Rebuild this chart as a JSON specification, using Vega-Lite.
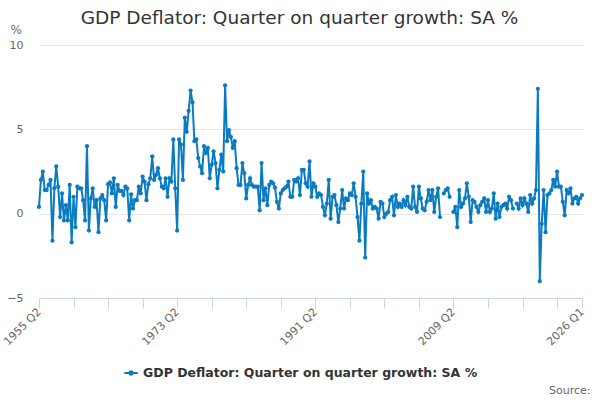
{
  "$schema": "https://vega.github.io/schema/vega-lite/v6.json",
  "width": 543,
  "height": 253,
  "autosize": {"type": "none"},
  "padding": {"left": 39, "top": 45, "right": 18, "bottom": 102},
  "title": {
    "text": "GDP Deflator: Quarter on quarter growth: SA %",
    "font": "DejaVu Sans",
    "fontSize": 18.5,
    "fontWeight": "normal",
    "color": "#333333",
    "anchor": "middle",
    "dx": -11,
    "offset": -4
  },
  "data": {
    "values": [
      {"q": "1955 Q2", "v": 0.4}, {"q": "1955 Q3", "v": 2.0}, {"q": "1955 Q4", "v": 2.5},
      {"q": "1956 Q1", "v": 1.4}, {"q": "1956 Q2", "v": 1.4}, {"q": "1956 Q3", "v": 1.7}, {"q": "1956 Q4", "v": 2.0},
      {"q": "1957 Q1", "v": -1.6}, {"q": "1957 Q2", "v": 1.5}, {"q": "1957 Q3", "v": 2.8}, {"q": "1957 Q4", "v": 1.6},
      {"q": "1958 Q1", "v": -0.2}, {"q": "1958 Q2", "v": 1.2}, {"q": "1958 Q3", "v": -0.4}, {"q": "1958 Q4", "v": 0.5},
      {"q": "1959 Q1", "v": -0.4}, {"q": "1959 Q2", "v": 1.7}, {"q": "1959 Q3", "v": -1.7}, {"q": "1959 Q4", "v": 1.0},
      {"q": "1960 Q1", "v": -0.8}, {"q": "1960 Q2", "v": 1.6}, {"q": "1960 Q3", "v": 1.5}, {"q": "1960 Q4", "v": 1.5},
      {"q": "1961 Q1", "v": 0.8}, {"q": "1961 Q2", "v": -0.4}, {"q": "1961 Q3", "v": 4.0}, {"q": "1961 Q4", "v": -1.0},
      {"q": "1962 Q1", "v": 0.9}, {"q": "1962 Q2", "v": 1.5}, {"q": "1962 Q3", "v": 0.4}, {"q": "1962 Q4", "v": 0.8},
      {"q": "1963 Q1", "v": -1.1}, {"q": "1963 Q2", "v": 0.9}, {"q": "1963 Q3", "v": 1.1}, {"q": "1963 Q4", "v": 0.8},
      {"q": "1964 Q1", "v": -0.4}, {"q": "1964 Q2", "v": 1.75}, {"q": "1964 Q3", "v": 1.85}, {"q": "1964 Q4", "v": 1.2},
      {"q": "1965 Q1", "v": 2.1}, {"q": "1965 Q2", "v": 0.4}, {"q": "1965 Q3", "v": 1.7}, {"q": "1965 Q4", "v": 1.35},
      {"q": "1966 Q1", "v": 1.35}, {"q": "1966 Q2", "v": 1.1}, {"q": "1966 Q3", "v": 1.6}, {"q": "1966 Q4", "v": 1.5},
      {"q": "1967 Q1", "v": -0.4}, {"q": "1967 Q2", "v": 1.15}, {"q": "1967 Q3", "v": 0.3}, {"q": "1967 Q4", "v": 0.8},
      {"q": "1968 Q1", "v": 0.8}, {"q": "1968 Q2", "v": 1.6}, {"q": "1968 Q3", "v": 1.2}, {"q": "1968 Q4", "v": 2.2},
      {"q": "1969 Q1", "v": 1.9}, {"q": "1969 Q2", "v": 0.8}, {"q": "1969 Q3", "v": 1.75}, {"q": "1969 Q4", "v": 2.1},
      {"q": "1970 Q1", "v": 3.4}, {"q": "1970 Q2", "v": 2.0}, {"q": "1970 Q3", "v": 2.3}, {"q": "1970 Q4", "v": 2.7},
      {"q": "1971 Q1", "v": 2.1}, {"q": "1971 Q2", "v": 1.6}, {"q": "1971 Q3", "v": 1.5}, {"q": "1971 Q4", "v": 2.1},
      {"q": "1972 Q1", "v": 1.0}, {"q": "1972 Q2", "v": 2.1}, {"q": "1972 Q3", "v": 1.9}, {"q": "1972 Q4", "v": 4.4},
      {"q": "1973 Q1", "v": 1.5}, {"q": "1973 Q2", "v": -1.0}, {"q": "1973 Q3", "v": 4.4}, {"q": "1973 Q4", "v": 4.1},
      {"q": "1974 Q1", "v": 2.0}, {"q": "1974 Q2", "v": 5.7}, {"q": "1974 Q3", "v": 4.85}, {"q": "1974 Q4", "v": 6.1},
      {"q": "1975 Q1", "v": 7.3}, {"q": "1975 Q2", "v": 6.6}, {"q": "1975 Q3", "v": 4.3}, {"q": "1975 Q4", "v": 4.4},
      {"q": "1976 Q1", "v": 3.3}, {"q": "1976 Q2", "v": 2.8}, {"q": "1976 Q3", "v": 2.4}, {"q": "1976 Q4", "v": 4.0},
      {"q": "1977 Q1", "v": 3.6}, {"q": "1977 Q2", "v": 3.9}, {"q": "1977 Q3", "v": 2.1}, {"q": "1977 Q4", "v": 2.9},
      {"q": "1978 Q1", "v": 3.7}, {"q": "1978 Q2", "v": 3.0}, {"q": "1978 Q3", "v": 1.5}, {"q": "1978 Q4", "v": 2.6},
      {"q": "1979 Q1", "v": 3.5}, {"q": "1979 Q2", "v": 2.5}, {"q": "1979 Q3", "v": 7.6}, {"q": "1979 Q4", "v": 4.3},
      {"q": "1980 Q1", "v": 4.95}, {"q": "1980 Q2", "v": 4.55}, {"q": "1980 Q3", "v": 3.9}, {"q": "1980 Q4", "v": 4.3},
      {"q": "1981 Q1", "v": 2.7}, {"q": "1981 Q2", "v": 1.7}, {"q": "1981 Q3", "v": 1.7}, {"q": "1981 Q4", "v": 3.0},
      {"q": "1982 Q1", "v": 2.4}, {"q": "1982 Q2", "v": 0.9}, {"q": "1982 Q3", "v": 1.7}, {"q": "1982 Q4", "v": 2.1},
      {"q": "1983 Q1", "v": 1.7}, {"q": "1983 Q2", "v": 1.6}, {"q": "1983 Q3", "v": 1.6}, {"q": "1983 Q4", "v": 1.6},
      {"q": "1984 Q1", "v": 0.2}, {"q": "1984 Q2", "v": 3.0}, {"q": "1984 Q3", "v": 0.8}, {"q": "1984 Q4", "v": 1.5},
      {"q": "1985 Q1", "v": 0.5}, {"q": "1985 Q2", "v": 1.7}, {"q": "1985 Q3", "v": 1.9}, {"q": "1985 Q4", "v": 1.8},
      {"q": "1986 Q1", "v": 1.55}, {"q": "1986 Q2", "v": 0.7}, {"q": "1986 Q3", "v": 0.3}, {"q": "1986 Q4", "v": 1.2},
      {"q": "1987 Q1", "v": 1.4}, {"q": "1987 Q2", "v": 1.5}, {"q": "1987 Q3", "v": 1.6}, {"q": "1987 Q4", "v": 1.9},
      {"q": "1988 Q1", "v": 1.0}, {"q": "1988 Q2", "v": 1.0}, {"q": "1988 Q3", "v": 2.0}, {"q": "1988 Q4", "v": 1.9},
      {"q": "1989 Q1", "v": 2.1}, {"q": "1989 Q2", "v": 1.1}, {"q": "1989 Q3", "v": 2.6}, {"q": "1989 Q4", "v": 2.6},
      {"q": "1990 Q1", "v": 1.8}, {"q": "1990 Q2", "v": 1.6}, {"q": "1990 Q3", "v": 3.1}, {"q": "1990 Q4", "v": 1.0},
      {"q": "1991 Q1", "v": 1.8}, {"q": "1991 Q2", "v": 1.6}, {"q": "1991 Q3", "v": 1.0}, {"q": "1991 Q4", "v": 1.2},
      {"q": "1992 Q1", "v": 1.1}, {"q": "1992 Q2", "v": 0.4}, {"q": "1992 Q3", "v": -0.1}, {"q": "1992 Q4", "v": 0.6},
      {"q": "1993 Q1", "v": 2.0}, {"q": "1993 Q2", "v": -0.3}, {"q": "1993 Q3", "v": 1.0}, {"q": "1993 Q4", "v": 1.1},
      {"q": "1994 Q1", "v": 0.5}, {"q": "1994 Q2", "v": -0.5}, {"q": "1994 Q3", "v": 0.3}, {"q": "1994 Q4", "v": 1.4},
      {"q": "1995 Q1", "v": 0.3}, {"q": "1995 Q2", "v": 0.9}, {"q": "1995 Q3", "v": 0.8}, {"q": "1995 Q4", "v": 1.2},
      {"q": "1996 Q1", "v": 1.1}, {"q": "1996 Q2", "v": 1.8}, {"q": "1996 Q3", "v": 1.0}, {"q": "1996 Q4", "v": -0.2},
      {"q": "1997 Q1", "v": -1.6}, {"q": "1997 Q2", "v": 0.6}, {"q": "1997 Q3", "v": 2.5}, {"q": "1997 Q4", "v": -2.6},
      {"q": "1998 Q1", "v": 1.2}, {"q": "1998 Q2", "v": 0.6}, {"q": "1998 Q3", "v": 0.8}, {"q": "1998 Q4", "v": 0.3},
      {"q": "1999 Q1", "v": 0.4}, {"q": "1999 Q2", "v": 0.3}, {"q": "1999 Q3", "v": -0.3}, {"q": "1999 Q4", "v": 0.7},
      {"q": "2000 Q1", "v": 0.6}, {"q": "2000 Q2", "v": -0.2}, {"q": "2000 Q3", "v": 0.0}, {"q": "2000 Q4", "v": 0.1},
      {"q": "2001 Q1", "v": 0.8}, {"q": "2001 Q2", "v": 1.0}, {"q": "2001 Q3", "v": -0.1}, {"q": "2001 Q4", "v": 1.1},
      {"q": "2002 Q1", "v": 0.4}, {"q": "2002 Q2", "v": 0.6}, {"q": "2002 Q3", "v": 0.4}, {"q": "2002 Q4", "v": 0.8},
      {"q": "2003 Q1", "v": 0.5}, {"q": "2003 Q2", "v": 1.0}, {"q": "2003 Q3", "v": 0.4}, {"q": "2003 Q4", "v": 0.3},
      {"q": "2004 Q1", "v": 1.6}, {"q": "2004 Q2", "v": 0.4}, {"q": "2004 Q3", "v": 0.1}, {"q": "2004 Q4", "v": 1.6},
      {"q": "2005 Q1", "v": 0.9}, {"q": "2005 Q2", "v": 0.3}, {"q": "2005 Q3", "v": 0.2}, {"q": "2005 Q4", "v": 0.7},
      {"q": "2006 Q1", "v": 1.4}, {"q": "2006 Q2", "v": 0.8}, {"q": "2006 Q3", "v": 1.4}, {"q": "2006 Q4", "v": 0.1},
      {"q": "2007 Q1", "v": 1.0}, {"q": "2007 Q2", "v": 1.5}, {"q": "2007 Q3", "v": -0.2}, {"q": "2007 Q4", "v": null},
      {"q": "2008 Q1", "v": 1.2}, {"q": "2008 Q2", "v": 1.4}, {"q": "2008 Q3", "v": 1.5}, {"q": "2008 Q4", "v": 1.0},
      {"q": "2009 Q1", "v": null}, {"q": "2009 Q2", "v": 0.1}, {"q": "2009 Q3", "v": 0.4}, {"q": "2009 Q4", "v": -0.8},
      {"q": "2010 Q1", "v": 1.4}, {"q": "2010 Q2", "v": 0.4}, {"q": "2010 Q3", "v": 0.6}, {"q": "2010 Q4", "v": 0.9},
      {"q": "2011 Q1", "v": 1.8}, {"q": "2011 Q2", "v": 1.0}, {"q": "2011 Q3", "v": -0.5}, {"q": "2011 Q4", "v": 0.8},
      {"q": "2012 Q1", "v": 0.7}, {"q": "2012 Q2", "v": 0.4}, {"q": "2012 Q3", "v": 0.1}, {"q": "2012 Q4", "v": 0.5},
      {"q": "2013 Q1", "v": 0.7}, {"q": "2013 Q2", "v": 0.9}, {"q": "2013 Q3", "v": 0.1}, {"q": "2013 Q4", "v": 0.8},
      {"q": "2014 Q1", "v": 0.1}, {"q": "2014 Q2", "v": 0.3}, {"q": "2014 Q3", "v": 1.2}, {"q": "2014 Q4", "v": -0.3},
      {"q": "2015 Q1", "v": 0.6}, {"q": "2015 Q2", "v": -0.2}, {"q": "2015 Q3", "v": 0.4}, {"q": "2015 Q4", "v": 0.5},
      {"q": "2016 Q1", "v": 0.6}, {"q": "2016 Q2", "v": 0.3}, {"q": "2016 Q3", "v": 1.0}, {"q": "2016 Q4", "v": 0.8},
      {"q": "2017 Q1", "v": 0.3}, {"q": "2017 Q2", "v": null}, {"q": "2017 Q3", "v": 0.6}, {"q": "2017 Q4", "v": 0.3},
      {"q": "2018 Q1", "v": 0.9}, {"q": "2018 Q2", "v": 0.5}, {"q": "2018 Q3", "v": 0.9}, {"q": "2018 Q4", "v": 0.6},
      {"q": "2019 Q1", "v": 0.1}, {"q": "2019 Q2", "v": 1.1}, {"q": "2019 Q3", "v": 0.6}, {"q": "2019 Q4", "v": 0.9},
      {"q": "2020 Q1", "v": 1.4}, {"q": "2020 Q2", "v": 7.4}, {"q": "2020 Q3", "v": -4.0}, {"q": "2020 Q4", "v": -0.6},
      {"q": "2021 Q1", "v": 1.4}, {"q": "2021 Q2", "v": -1.1}, {"q": "2021 Q3", "v": 1.1}, {"q": "2021 Q4", "v": 1.2},
      {"q": "2022 Q1", "v": 1.4}, {"q": "2022 Q2", "v": 2.0}, {"q": "2022 Q3", "v": 1.6}, {"q": "2022 Q4", "v": 2.5},
      {"q": "2023 Q1", "v": 1.6}, {"q": "2023 Q2", "v": 1.6}, {"q": "2023 Q3", "v": 0.7}, {"q": "2023 Q4", "v": -0.1},
      {"q": "2024 Q1", "v": 1.4}, {"q": "2024 Q2", "v": 1.2}, {"q": "2024 Q3", "v": 1.5}, {"q": "2024 Q4", "v": 0.6},
      {"q": "2025 Q1", "v": 0.9}, {"q": "2025 Q2", "v": 1.0}, {"q": "2025 Q3", "v": 0.6}, {"q": "2025 Q4", "v": 0.9},
      {"q": "2026 Q1", "v": 1.1}
    ]
  },
  "mark": {
    "type": "line",
    "strokeWidth": 2,
    "invalid": "break-paths-show-domains",
    "point": {"filled": true, "size": 18}
  },
  "encoding": {
    "x": {
      "field": "q",
      "type": "ordinal",
      "scale": {"type": "point", "padding": 0},
      "axis": {
        "values": ["1955 Q2", "1959 Q4", "1964 Q2", "1968 Q4", "1973 Q2", "1977 Q4", "1982 Q2", "1986 Q4", "1991 Q2", "1995 Q4", "2000 Q2", "2004 Q4", "2009 Q2", "2013 Q4", "2018 Q2", "2022 Q4", "2026 Q1"],
        "labelExpr": "indexof(['1955 Q2', '1973 Q2', '1991 Q2', '2009 Q2', '2026 Q1'], datum.value) >= 0 ? datum.label : ''",
        "labelAngle": -45,
        "labelAlign": "right",
        "labelBaseline": "middle",
        "labelPadding": 2,
        "labelFontSize": 11,
        "labelColor": "#666666",
        "labelOverlap": false,
        "labelBound": false,
        "tickSize": 10,
        "tickColor": "#ccd6eb",
        "domainColor": "#ccd6eb",
        "grid": false,
        "title": "Source:",
        "titleX": 551,
        "titleY": 92,
        "titleAlign": "right",
        "titleBaseline": "middle",
        "titleFontSize": 11,
        "titleFontWeight": "normal",
        "titleColor": "#666666"
      }
    },
    "y": {
      "field": "v",
      "type": "quantitative",
      "scale": {"domain": [-5, 10], "nice": false},
      "axis": {
        "values": [-5, 0, 5, 10],
        "grid": true,
        "gridColor": "#e6e6e6",
        "domain": false,
        "ticks": false,
        "labelPadding": 16,
        "labelFontSize": 11,
        "labelColor": "#666666",
        "title": "%",
        "titleAngle": 0,
        "titleX": -29,
        "titleY": -9,
        "titleAlign": "left",
        "titleBaseline": "bottom",
        "titleFontSize": 12,
        "titleFontWeight": "normal",
        "titleColor": "#666666"
      }
    },
    "color": {
      "datum": "GDP Deflator: Quarter on quarter growth: SA %",
      "scale": {"range": ["#0b7bc1"]},
      "legend": {
        "orient": "none",
        "legendX": 84,
        "legendY": 320,
        "title": null,
        "labelLimit": 0,
        "labelFontSize": 12.5,
        "labelFontWeight": "bold",
        "labelColor": "#333333",
        "symbolType": "M-1,0H1M-0.25,0A0.25,0.25 0 1,0 0.25,0A0.25,0.25 0 1,0 -0.25,0",
        "symbolSize": 180,
        "symbolStrokeWidth": 2,
        "symbolFillColor": "#0b7bc1",
        "symbolStrokeColor": "#0b7bc1"
      }
    }
  },
  "config": {
    "view": {"stroke": null},
    "font": "DejaVu Sans"
  }
}
